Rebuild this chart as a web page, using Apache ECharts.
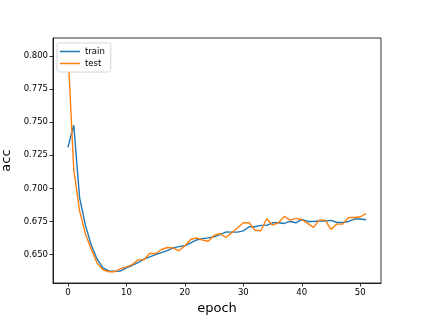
<!DOCTYPE html>
<html><head><meta charset="utf-8">
<script src="https://cdn.jsdelivr.net/npm/echarts@6/dist/echarts.min.js"></script>
<style>html,body{margin:0;padding:0;background:#fff}#c{width:423px;height:318px}</style>
</head><body><div id="c"></div>
<script>
const epochs = Array.from({length: 52}, (_, i) => i);
const train = [0.731,0.7477,0.693,0.672,0.657,0.6465,0.640,0.6376,0.6374,0.6376,0.640,0.6419,0.6439,0.6465,0.6482,0.650,0.6515,0.653,0.655,0.656,0.6566,0.6588,0.661,0.662,0.6626,0.6634,0.665,0.667,0.6669,0.6669,0.6679,0.671,0.671,0.672,0.672,0.674,0.674,0.6735,0.675,0.674,0.6765,0.675,0.675,0.6753,0.6753,0.6758,0.6742,0.6742,0.675,0.6768,0.6768,0.6763];
const test = [0.805,0.714,0.683,0.6655,0.654,0.6435,0.6385,0.637,0.637,0.6394,0.6407,0.6424,0.646,0.646,0.6508,0.6508,0.6538,0.6553,0.655,0.6528,0.6566,0.6614,0.6626,0.661,0.660,0.6644,0.6659,0.6629,0.6664,0.670,0.674,0.674,0.6684,0.668,0.677,0.6722,0.674,0.6788,0.676,0.6773,0.6765,0.6735,0.6705,0.676,0.676,0.669,0.673,0.673,0.678,0.678,0.6785,0.681];
const xTicks = [0,10,20,30,40,50];
const yTicks = [0.650,0.675,0.700,0.725,0.750,0.775,0.800];
const seriesNames = ['train','test'];

const font = 'DejaVu Sans';
const chart = echarts.init(document.getElementById('c'), null, {renderer:'canvas'});
chart.setOption({
  animation: false,
  textStyle: {fontFamily: font},
  grid: {left: 53, right: 42, top: 38, bottom: 35, containLabel: false, outerBoundsMode: 'none',
    show: true, borderColor: '#000', borderWidth: 0.8, backgroundColor: '#fff'},
  legend: {
    left: 57, top: 43, orient: 'vertical', itemWidth: 20, itemHeight: 1.5, itemGap: 3,
    icon: 'rect',
    padding: [4, 6, 4, 3],
    backgroundColor: '#fff', borderColor: '#ccc', borderWidth: 0.8, borderRadius: 2,
    textStyle: {fontFamily: font, fontSize: 8.5, color: '#000'},
    data: seriesNames
  },
  xAxis: {
    type: 'value', min: -2.55, max: 53.55,
    name: 'epoch', nameLocation: 'middle', nameGap: 16,
    nameTextStyle: {fontFamily: font, fontSize: 13, color: '#000'},
    axisLine: {show: true, onZero: false, lineStyle: {color: '#000', width: 0.8}},
    axisTick: {show: true, length: 3.5, customValues: xTicks, lineStyle: {color: '#000', width: 0.8}},
    axisLabel: {customValues: xTicks, fontFamily: font, fontSize: 8.5, color: '#000', margin: 5},
    splitLine: {show: false}
  },
  yAxis: {
    type: 'value', min: 0.6285, max: 0.8136,
    name: 'acc', nameLocation: 'middle', nameGap: 36,
    nameTextStyle: {fontFamily: font, fontSize: 13, color: '#000'},
    axisLine: {show: true, onZero: false, lineStyle: {color: '#000', width: 0.8}},
    axisTick: {show: true, length: 3.5, customValues: yTicks, lineStyle: {color: '#000', width: 0.8}},
    axisLabel: {customValues: yTicks, fontFamily: font, fontSize: 8.5, color: '#000', margin: 5,
      formatter: v => v.toFixed(3)},
    splitLine: {show: false}
  },
  series: [
    {name: seriesNames[0], type: 'line', data: epochs.map((e,i)=>[e, train[i]]), symbol: 'none',
     lineStyle: {color: '#1f77b4', width: 1.4}, itemStyle: {color: '#1f77b4'}},
    {name: seriesNames[1], type: 'line', data: epochs.map((e,i)=>[e, test[i]]), symbol: 'none',
     lineStyle: {color: '#ff7f0e', width: 1.4}, itemStyle: {color: '#ff7f0e'}}
  ]
});
</script></body></html>
